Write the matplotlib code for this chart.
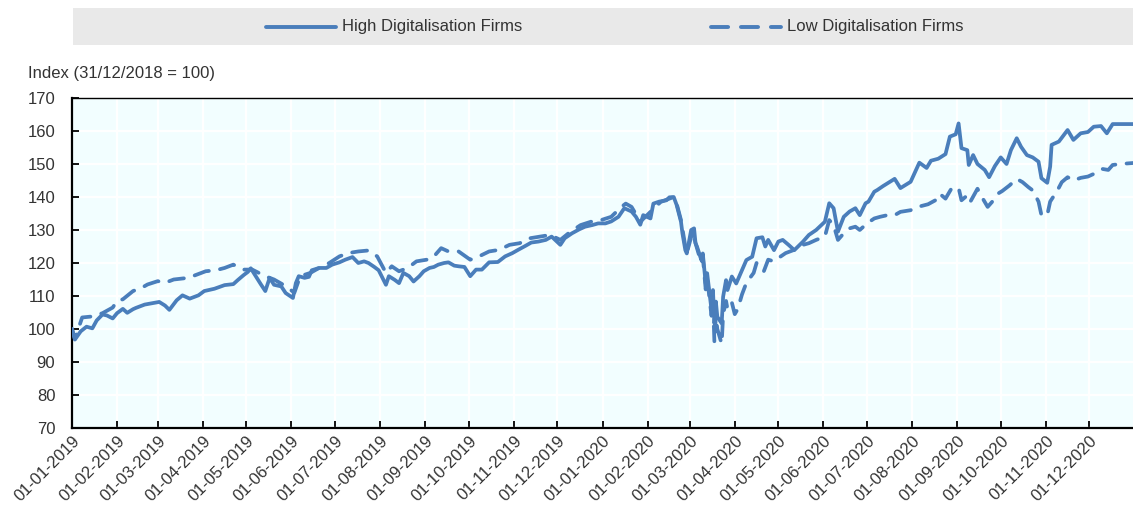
import pandas as pd
import matplotlib
matplotlib.use("Agg")
import matplotlib.pyplot as plt
import matplotlib.dates as mdates

FONT = ["Liberation Sans Narrow", "Liberation Sans", "DejaVu Sans"]
plt.rcParams["font.family"] = FONT

BLUE = "#4a7ebb"
TXT = "#333333"

# High digitalisation firms (index, 31/12/2018 = 100)
high_dates = [
    "2019-01-01", "2019-01-03", "2019-01-07", "2019-01-11", "2019-01-15", "2019-01-18", "2019-01-22",
    "2019-01-25", "2019-01-29", "2019-02-01", "2019-02-05", "2019-02-08", "2019-02-12", "2019-02-14",
    "2019-02-20", "2019-02-26", "2019-03-02", "2019-03-06", "2019-03-09", "2019-03-14", "2019-03-18",
    "2019-03-23", "2019-03-29", "2019-04-02", "2019-04-09", "2019-04-16", "2019-04-22", "2019-04-25",
    "2019-04-29", "2019-05-02", "2019-05-04", "2019-05-07", "2019-05-11", "2019-05-14", "2019-05-17",
    "2019-05-20", "2019-05-25", "2019-05-28", "2019-06-02", "2019-06-04", "2019-06-06", "2019-06-10",
    "2019-06-13", "2019-06-15", "2019-06-20", "2019-06-25", "2019-06-29", "2019-07-04", "2019-07-08",
    "2019-07-13", "2019-07-17", "2019-07-21", "2019-07-24", "2019-07-28", "2019-07-31", "2019-08-05",
    "2019-08-07", "2019-08-11", "2019-08-14", "2019-08-17", "2019-08-21", "2019-08-24", "2019-08-28",
    "2019-08-31", "2019-09-04", "2019-09-07", "2019-09-10", "2019-09-14", "2019-09-17", "2019-09-21",
    "2019-09-24", "2019-09-28", "2019-10-02", "2019-10-06", "2019-10-10", "2019-10-15", "2019-10-21",
    "2019-10-26", "2019-10-31", "2019-11-04", "2019-11-09", "2019-11-13", "2019-11-18", "2019-11-23",
    "2019-11-27", "2019-12-03", "2019-12-06", "2019-12-11", "2019-12-16", "2019-12-20", "2019-12-25",
    "2019-12-29", "2020-01-03", "2020-01-07", "2020-01-12", "2020-01-16", "2020-01-21", "2020-01-24",
    "2020-01-27", "2020-01-29", "2020-02-03", "2020-02-05", "2020-02-09", "2020-02-14", "2020-02-16",
    "2020-02-19", "2020-02-21", "2020-02-24", "2020-02-25", "2020-02-27", "2020-02-28", "2020-03-02",
    "2020-03-04", "2020-03-05", "2020-03-06", "2020-03-09", "2020-03-10", "2020-03-12", "2020-03-13",
    "2020-03-16", "2020-03-17", "2020-03-18", "2020-03-19", "2020-03-20", "2020-03-23", "2020-03-24",
    "2020-03-26", "2020-03-27", "2020-03-30", "2020-04-02", "2020-04-06", "2020-04-09", "2020-04-13",
    "2020-04-16", "2020-04-20", "2020-04-22", "2020-04-24", "2020-04-28", "2020-05-01", "2020-05-04",
    "2020-05-08", "2020-05-12", "2020-05-18", "2020-05-22", "2020-05-27", "2020-06-02", "2020-06-05",
    "2020-06-08", "2020-06-11", "2020-06-15", "2020-06-19", "2020-06-23", "2020-06-26", "2020-06-30",
    "2020-07-02", "2020-07-06", "2020-07-08", "2020-07-12", "2020-07-20", "2020-07-24", "2020-07-31",
    "2020-08-06", "2020-08-11", "2020-08-14", "2020-08-19", "2020-08-24", "2020-08-27", "2020-08-31",
    "2020-09-02", "2020-09-04", "2020-09-08", "2020-09-09", "2020-09-12", "2020-09-15", "2020-09-20",
    "2020-09-23", "2020-09-27", "2020-10-01", "2020-10-05", "2020-10-08", "2020-10-12", "2020-10-15",
    "2020-10-19", "2020-10-23", "2020-10-27", "2020-10-29", "2020-11-02", "2020-11-04", "2020-11-05",
    "2020-11-10", "2020-11-16", "2020-11-20", "2020-11-25", "2020-11-30", "2020-12-04", "2020-12-09",
    "2020-12-13", "2020-12-17", "2020-12-31",
]
high_vals = [
    100.0, 96.8, 99.3, 100.7, 100.2, 102.6, 104.4,
    104.1, 103.2, 104.8, 106.1, 104.9, 106.0, 106.4,
    107.4, 107.9, 108.2, 107.1, 105.8, 108.7, 110.2,
    109.2, 110.2, 111.5, 112.2, 113.3, 113.6, 114.8,
    116.3, 117.3, 118.4, 116.3, 113.5, 111.5, 115.5,
    113.4, 112.9, 110.9, 109.4, 113.9, 116.0, 115.5,
    115.8, 117.8, 118.5, 118.5, 119.5, 120.2, 121.0,
    121.8, 120.0, 120.5, 120.0, 118.8, 117.8, 113.4,
    116.0, 114.9, 113.9, 117.0, 116.0, 114.4, 116.0,
    117.5, 118.5, 118.8, 119.5, 120.0, 120.2, 119.2,
    119.0, 118.8, 116.0, 118.0, 118.0, 120.2, 120.3,
    122.0, 123.0, 124.0, 125.2, 126.2, 126.5, 127.0,
    128.0, 125.5, 127.5, 129.0, 130.2, 131.0, 131.5,
    132.0, 132.0, 132.6, 134.0, 136.6, 135.6, 134.0,
    131.6, 134.5, 133.5, 138.0, 138.6, 139.0, 139.9,
    140.0, 137.6, 132.5, 129.0, 123.9, 122.9, 130.0,
    130.5, 126.0, 125.0, 120.9, 122.9, 113.8, 116.9,
    105.8, 111.8, 101.7, 108.3, 103.7, 101.7, 109.8,
    114.8, 111.8, 115.9, 113.8, 117.9, 120.9, 121.9,
    127.5, 127.8, 125.0, 127.0, 123.9, 126.5, 127.0,
    125.5, 123.9, 126.5, 128.5, 130.0, 132.5, 138.1,
    136.6, 129.5, 134.0, 135.6, 136.6, 134.5, 138.1,
    138.6, 141.6, 142.1, 143.3, 145.5, 142.7, 144.6,
    150.4, 148.8, 151.0, 151.6, 153.0, 158.3, 159.0,
    162.3, 154.8, 154.2, 149.7, 152.7, 150.0, 148.2,
    146.0, 149.4, 152.0, 150.0, 154.2, 157.8, 155.2,
    152.7, 152.0, 150.7, 145.7, 144.3, 149.2, 155.8,
    156.8, 160.3, 157.3, 159.3, 159.7, 161.3, 161.5,
    159.3, 162.1, 162.1,
]

# Low digitalisation firms
low_dates = [
    "2019-01-01", "2019-01-03", "2019-01-08", "2019-01-15", "2019-01-22", "2019-01-29", "2019-02-01",
    "2019-02-05", "2019-02-12", "2019-02-18", "2019-02-22", "2019-03-01", "2019-03-06", "2019-03-12",
    "2019-03-22", "2019-04-03", "2019-04-10", "2019-04-16", "2019-04-22", "2019-04-29", "2019-05-05",
    "2019-05-14", "2019-05-20", "2019-05-28", "2019-06-03", "2019-06-07", "2019-06-14", "2019-06-20",
    "2019-06-27", "2019-07-04", "2019-07-10", "2019-07-17", "2019-07-24", "2019-07-30", "2019-08-05",
    "2019-08-09", "2019-08-14", "2019-08-20", "2019-08-26", "2019-09-02", "2019-09-06", "2019-09-12",
    "2019-09-17", "2019-09-24", "2019-10-02", "2019-10-08", "2019-10-15", "2019-10-22", "2019-10-29",
    "2019-11-05", "2019-11-12", "2019-11-19", "2019-11-26", "2019-12-03", "2019-12-10", "2019-12-17",
    "2019-12-24", "2019-12-31", "2020-01-07", "2020-01-14", "2020-01-17", "2020-01-21", "2020-01-27",
    "2020-02-03", "2020-02-10", "2020-02-19", "2020-02-21", "2020-02-24", "2020-02-27", "2020-02-28",
    "2020-03-03", "2020-03-05", "2020-03-09", "2020-03-10", "2020-03-12", "2020-03-13", "2020-03-16",
    "2020-03-17", "2020-03-18", "2020-03-19", "2020-03-20", "2020-03-23", "2020-03-24", "2020-03-26",
    "2020-03-27", "2020-03-30", "2020-04-01", "2020-04-03", "2020-04-06", "2020-04-09", "2020-04-14",
    "2020-04-16", "2020-04-21", "2020-04-24", "2020-04-28", "2020-05-01", "2020-05-06", "2020-05-12",
    "2020-05-18", "2020-05-22", "2020-05-27", "2020-06-02", "2020-06-05", "2020-06-08", "2020-06-11",
    "2020-06-15", "2020-06-19", "2020-06-23", "2020-06-26", "2020-07-01", "2020-07-06", "2020-07-10",
    "2020-07-15", "2020-07-20", "2020-07-24", "2020-07-31", "2020-08-05", "2020-08-12", "2020-08-17",
    "2020-08-20", "2020-08-24", "2020-08-28", "2020-09-02", "2020-09-04", "2020-09-08", "2020-09-10",
    "2020-09-15", "2020-09-18", "2020-09-22", "2020-09-25", "2020-09-29", "2020-10-02", "2020-10-07",
    "2020-10-12", "2020-10-16", "2020-10-20", "2020-10-23", "2020-10-27", "2020-10-29", "2020-11-02",
    "2020-11-04", "2020-11-09", "2020-11-12", "2020-11-16", "2020-11-20", "2020-11-25", "2020-11-30",
    "2020-12-04", "2020-12-10", "2020-12-14", "2020-12-17", "2020-12-22", "2020-12-31",
]
low_vals = [
    100.0, 97.0, 103.5, 103.8, 104.8, 106.5, 108.5,
    109.0, 111.5, 112.5, 113.5, 114.5, 114.0, 115.0,
    115.5, 117.5, 117.8, 118.5, 119.5, 118.0, 118.0,
    116.0, 115.0, 113.0, 111.0, 116.0, 117.0, 118.5,
    120.0, 122.0, 123.0, 123.5, 123.8, 122.0, 117.0,
    119.0, 117.5, 118.5, 120.5, 121.0, 121.5, 124.5,
    123.5, 123.5, 121.0, 122.0, 123.5, 124.0, 125.5,
    126.0, 127.5, 128.0, 128.5, 127.0, 129.5, 131.5,
    132.5, 133.0, 134.0, 137.0, 138.0, 137.0, 132.5,
    135.5, 138.5, 140.0, 138.0, 133.0, 125.0, 123.0,
    129.5, 126.0, 120.0, 122.0, 112.0, 115.5, 104.0,
    109.0, 96.0, 104.0, 100.0, 95.5, 104.5, 108.5,
    106.0, 108.0, 104.5, 106.0, 110.5, 114.0, 117.0,
    120.0, 117.5, 121.0, 120.5, 121.5, 123.0, 124.0,
    125.5, 126.0, 127.0, 128.0, 133.0, 131.5, 127.0,
    129.0, 130.5, 131.0, 130.0, 132.0, 133.5, 134.0,
    134.5, 134.5, 135.5, 136.0, 137.0, 137.8, 139.0,
    141.0, 139.5, 142.5, 142.8, 139.0, 140.5, 138.5,
    142.5, 140.0, 137.0, 138.5, 141.0, 141.8, 143.5,
    145.5, 144.5, 143.0, 142.0, 138.6, 134.5, 134.5,
    138.6, 142.0, 144.5, 146.0, 145.0, 145.8, 146.2,
    147.0, 148.5, 148.2, 149.7, 150.0, 150.3,
]

high = pd.Series(high_vals, index=pd.to_datetime(high_dates))
low = pd.Series(low_vals, index=pd.to_datetime(low_dates))

W, H = 1133, 507
fig = plt.figure(figsize=(W / 100, H / 100), dpi=100)

# plot area
ax = fig.add_axes([72 / W, (H - 428) / H, (W - 72) / W, 330 / H])
ax.set_facecolor("#f2feff")
ax.plot(low.index, low.values, color=BLUE, lw=2.7, ls=(0, (4.0, 3.0)),
        dash_capstyle="round", solid_joinstyle="round", zorder=3)
ax.plot(high.index, high.values, color=BLUE, lw=2.7, solid_joinstyle="round",
        solid_capstyle="round", zorder=4)

ax.set_ylim(70, 170)
ax.set_yticks(range(70, 171, 10))
ax.set_xlim(pd.Timestamp("2019-01-01"), pd.Timestamp("2020-12-31"))
ax.xaxis.set_major_locator(mdates.MonthLocator())
ax.xaxis.set_major_formatter(mdates.DateFormatter("%d-%m-%Y"))
ax.grid(True, color="white", lw=1.6, zorder=1)
ax.set_axisbelow(True)

for side in ["left", "bottom", "top"]:
    ax.spines[side].set_color("black")
ax.spines["left"].set_linewidth(1.6)
ax.spines["bottom"].set_linewidth(1.6)
ax.spines["top"].set_linewidth(1.0)
ax.spines["right"].set_visible(False)

ax.tick_params(axis="both", direction="in", length=5, width=1.3, color="black",
               labelsize=12, labelcolor=TXT)
ax.tick_params(axis="y", pad=12)
ax.tick_params(axis="x", pad=4)
for lab in ax.get_xticklabels():
    lab.set_rotation(45)
    lab.set_ha("right")
    lab.set_rotation_mode("anchor")

fig.text(28 / W, 1 - 73 / H, "Index (31/12/2018 = 100)", fontsize=12, color=TXT,
         ha="left", va="center")

# legend strip on top
lax = fig.add_axes([73 / W, (H - 45) / H, (W - 73) / W, 37 / H])
lax.set_facecolor("#e9e9e9")
lax.set_xlim(0, 1)
lax.set_ylim(0, 1)
lax.set_xticks([])
lax.set_yticks([])
for s in lax.spines.values():
    s.set_visible(False)
x0 = (266 - 73) / (W - 73)
x1 = (336 - 73) / (W - 73)
lax.plot([x0, x1], [0.5, 0.5], color=BLUE, lw=2.8, solid_capstyle="round")
lax.text((342 - 73) / (W - 73), 0.5, "High Digitalisation Firms", fontsize=12,
         color=TXT, va="center", ha="left")
x0 = (711 - 73) / (W - 73)
x1 = (781 - 73) / (W - 73)
lax.plot([x0, x1], [0.5, 0.5], color=BLUE, lw=2.8, ls=(0, (4.4, 3.3)), dash_capstyle="round")
lax.text((787 - 73) / (W - 73), 0.5, "Low Digitalisation Firms", fontsize=12,
         color=TXT, va="center", ha="left")

fig.savefig("out.png", dpi=100)
